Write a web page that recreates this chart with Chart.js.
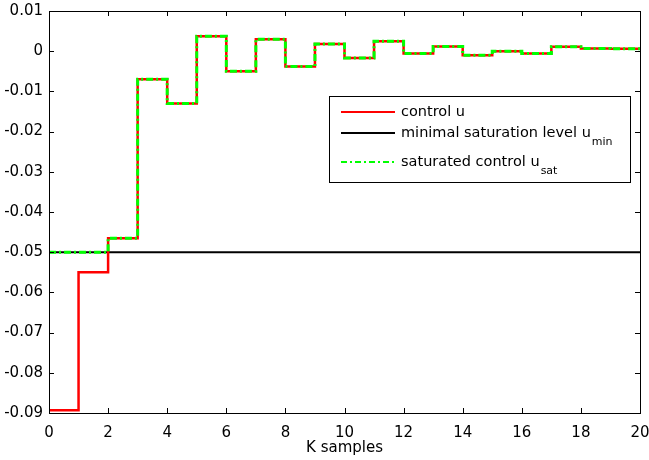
<!DOCTYPE html>
<html>
<head>
  <meta charset="utf-8">
  <title>Control signal</title>
  <script src="https://cdn.jsdelivr.net/npm/chart.js"></script>
  <style>
    body { margin: 0; background: #fff; }
  </style>
</head>
<body>
  <canvas id="chart" width="649" height="460"></canvas>
  <script>
    // stairs data, value at k holds until k+1
    const samples = [0, 1, 2, 3, 4, 5, 6, 7, 8, 9, 10, 11, 12, 13, 14, 15, 16, 17, 18, 19, 20];
    const controlU = [-0.0893, -0.055, -0.0465, -0.007, -0.013, 0.0037, -0.005, 0.003, -0.0038, 0.0018,
      -0.0017, 0.0025, -0.0006, 0.0012, -0.001, 0.0000, -0.0006, 0.0011, 0.0007, 0.0006, 0.0006];
    const uMin = -0.05;
    const controlSat = controlU.map(v => Math.max(v, uMin));
    const xTicks = [0, 2, 4, 6, 8, 10, 12, 14, 16, 18, 20];
    const yTicks = [0.01, 0, -0.01, -0.02, -0.03, -0.04, -0.05, -0.06, -0.07, -0.08, -0.09];

    const FONT = '"DejaVu Sans", sans-serif';

    const pts = arr => samples.map((k, i) => ({ x: k, y: arr[i] }));

    // box, inward ticks and legend like the matlab figure
    const matlabFrame = {
      id: 'matlabFrame',
      afterDatasetsDraw(chart) {
        const { ctx, chartArea: a, scales } = chart;
        ctx.save();
        ctx.strokeStyle = '#000';
        ctx.lineWidth = 1;
        ctx.strokeRect(a.left + 0.5, a.top + 0.5, a.right - a.left, a.bottom - a.top);
        ctx.beginPath();
        xTicks.forEach(t => {
          const x = Math.round(scales.x.getPixelForValue(t)) + 0.5;
          ctx.moveTo(x, a.bottom); ctx.lineTo(x, a.bottom - 5);
          ctx.moveTo(x, a.top); ctx.lineTo(x, a.top + 5);
        });
        yTicks.forEach(t => {
          const y = Math.round(scales.y.getPixelForValue(t)) + 0.5;
          ctx.moveTo(a.left, y); ctx.lineTo(a.left + 5, y);
          ctx.moveTo(a.right, y); ctx.lineTo(a.right - 5, y);
        });
        ctx.stroke();

        // legend
        const lx = 329, ly = 96, lw = 301, lh = 86;
        ctx.fillStyle = '#fff';
        ctx.fillRect(lx, ly, lw, lh);
        ctx.strokeRect(lx + 0.5, ly + 0.5, lw, lh);
        const rows = [
          { color: '#ff0000', dash: [], width: 2, text: 'control u', sub: '', y: 112 },
          { color: '#000000', dash: [], width: 2, text: 'minimal saturation level u', sub: 'min', y: 133 },
          { color: '#00ff00', dash: [6, 3, 2, 3], width: 2, text: 'saturated control u', sub: 'sat', y: 162 }
        ];
        rows.forEach(r => {
          ctx.beginPath();
          ctx.setLineDash(r.dash);
          ctx.strokeStyle = r.color;
          ctx.lineWidth = r.width;
          ctx.moveTo(341, r.y); ctx.lineTo(395, r.y);
          ctx.stroke();
          ctx.setLineDash([]);
          ctx.fillStyle = '#000';
          ctx.font = '14.5px ' + FONT;
          ctx.textBaseline = 'middle';
          ctx.textAlign = 'left';
          ctx.fillText(r.text, 401, r.y);
          if (r.sub) {
            const w = ctx.measureText(r.text).width;
            ctx.font = '11px ' + FONT;
            ctx.fillText(r.sub, 401 + w + 1, r.y + 9);
          }
        });
        ctx.restore();
      }
    };

    const whiteBg = {
      id: 'whiteBg',
      beforeDraw(chart) {
        const ctx = chart.ctx;
        ctx.save();
        ctx.fillStyle = '#fff';
        ctx.fillRect(0, 0, chart.width, chart.height);
        ctx.restore();
      }
    };

    new Chart(document.getElementById('chart').getContext('2d'), {
      type: 'line',
      data: {
        datasets: [
          {
            label: 'saturated control u_sat',
            data: pts(controlSat),
            borderColor: '#00ff00',
            borderWidth: 3,
            borderDash: [7, 3, 2, 3],
            stepped: 'before',
            pointRadius: 0,
            fill: false,
            order: 0
          },
          {
            label: 'control u',
            data: pts(controlU),
            borderColor: '#ff0000',
            borderWidth: 2.5,
            stepped: 'before',
            pointRadius: 0,
            fill: false,
            order: 1
          },
          {
            label: 'minimal saturation level u_min',
            data: pts(samples.map(() => uMin)),
            borderColor: '#000000',
            borderWidth: 2,
            pointRadius: 0,
            fill: false,
            order: 2
          }
        ]
      },
      options: {
        responsive: false,
        animation: false,
        layout: { padding: { left: 0, right: 9, top: 11, bottom: 0 } },
        plugins: { legend: { display: false }, tooltip: { enabled: false } },
        scales: {
          x: {
            type: 'linear',
            min: 0, max: 20,
            afterBuildTicks: s => { s.ticks = xTicks.map(v => ({ value: v })); },
            afterFit: s => { s.height = 47; s.paddingLeft = 0; s.paddingRight = 0; },
            grid: { display: false, drawTicks: false },
            border: { display: false },
            ticks: { color: '#000', font: { family: FONT, size: 15 }, padding: 11, maxRotation: 0 },
            title: { display: true, text: 'K samples', color: '#000', font: { family: FONT, size: 15 }, padding: { top: 0, bottom: 3 } }
          },
          y: {
            type: 'linear',
            min: -0.09, max: 0.01,
            afterBuildTicks: s => { s.ticks = yTicks.map(v => ({ value: v })); },
            afterFit: s => { s.width = 49; s.paddingTop = 0; s.paddingBottom = 0; },
            grid: { display: false, drawTicks: false },
            border: { display: false },
            ticks: {
              color: '#000', font: { family: FONT, size: 15 }, padding: 6,
              callback: v => String(Number(v.toFixed(2)))
            }
          }
        }
      },
      plugins: [whiteBg, matlabFrame]
    });
  </script>
</body>
</html>
